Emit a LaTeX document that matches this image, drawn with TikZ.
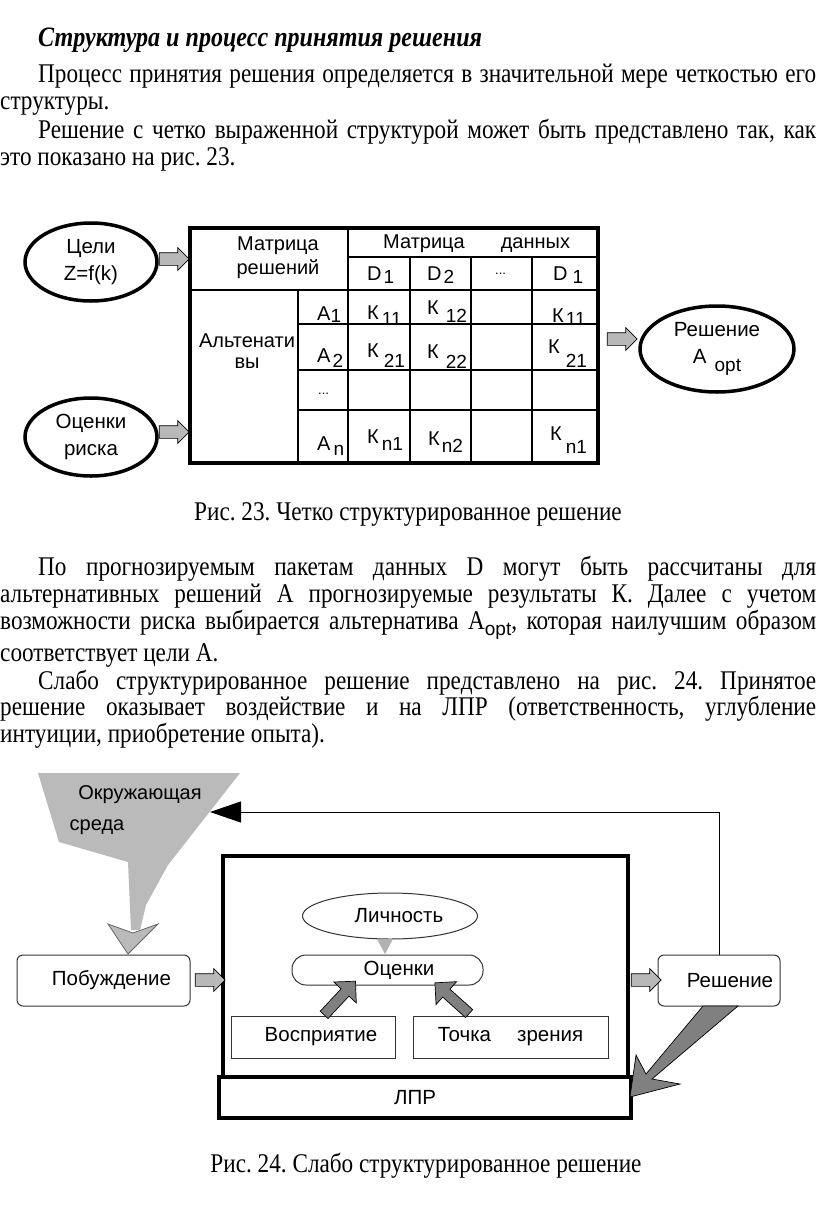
\documentclass[tikz,border=0pt]{standalone}
\usepackage{fontspec}
\setmainfont{Liberation Serif}[FakeStretch=0.86]
\newfontfamily\diagfont{Liberation Sans}
\usetikzlibrary{shapes, arrows.meta, positioning}

\newcommand\lowered[2]{\raisebox{-#1}{\fontsize{19}{20}\selectfont #2}}
\frenchspacing

\begin{document}
\begin{tikzpicture}[x=1pt, y=-1pt,
body-line/.style={anchor=base west, inner sep=0pt, font=\fontsize{27}{28}\selectfont},
fig-caption/.style={body-line, anchor=base},
diag-text/.style={inner sep=0pt, font=\diagfont\fontsize{20}{24}\selectfont},
cell-text/.style={diag-text, anchor=base west},
goal/.style={ellipse, draw=black, line width=3.5pt, minimum width=132pt,
    minimum height=78pt, align=center, inner sep=0pt,
    font=\diagfont\fontsize{20.5}{27}\selectfont},
rule-line/.style={draw, line width=1.2pt},
thick-frame/.style={draw, line width=3.5pt, inner sep=0pt,
    font=\diagfont\fontsize{20.5}{24}\selectfont},
plain-box/.style={rectangle, draw=black!80, line width=1pt, inner sep=0pt,
    font=\diagfont\fontsize{20.5}{24}\selectfont},
fat-arrow/.style={single arrow, draw=black, fill=black!28, line width=0.7pt,
    minimum height=30pt, inner sep=6pt, single arrow head extend=5pt},
dark-arrow/.style={single arrow, draw=black, fill=black!50, line width=0.7pt,
    minimum height=46pt, inner sep=5pt, single arrow head extend=10pt},
feedback/.style={draw, line width=1pt, -{Triangle[length=31pt, width=21pt]}}
]
\useasboundingbox (0,0) rectangle (816,1205);

% text above figure 23
\node [body-line, font=\fontsize{28}{28}\selectfont\bfseries\itshape] (title) at (38,46) {Структура и процесс принятия решения};
\node [body-line] (par1-a) at (38,82) {\makebox[778pt][s]{Процесс принятия решения определяется в значительной мере четкостью его}};
\node [body-line] (par1-b) at (0,109) {структуры.};
\node [body-line] (par2-a) at (38,138) {\makebox[778pt][s]{Решение с четко выраженной структурой может быть представлено так, как}};
\node [body-line] (par2-b) at (0,165) {это показано на рис. 23.};

% figure 23
\node [goal] (goal) at (91,262) {Цели\\Z=f(k)};
\node [goal] (risk) at (91,437) {Оценки\\риска};
\node [goal, minimum width=154pt, minimum height=86pt] (decision) at (717,349) {Решение\\А\hspace{8pt}\lowered{8pt}{opt}};

\node [fat-arrow] (goal-arrow) at (171,259) {};
\node [fat-arrow] (risk-arrow) at (171,432) {};
\node [fat-arrow] (decision-arrow) at (619,339) {};

\draw [thick-frame] (190,228) rectangle (598,463);
\draw [rule-line] (190,290) -- (598,290);
\draw [rule-line] (348,228) -- (348,463);
\draw [rule-line] (348,257) -- (598,257);
\draw [rule-line] (298,290) -- (298,463);
\foreach \x in {410,471,532}
    \draw [rule-line] (\x,257) -- (\x,463);
\foreach \y in {324,370,410}
    \draw [rule-line] (298,\y) -- (598,\y);

\node [diag-text, align=center] (matrix-dec) at (278,258) {Матрица\\решений};
\node [diag-text, anchor=base west] (matrix-data) at (383,248) {Матрица\hspace{36pt}данных};
\node [diag-text, align=center] (alternatives) at (247,351) {Альтенати\\[-3pt]вы};

\node [cell-text] (d-1) at (367,280) {D\hspace{2pt}\lowered{3pt}{1}};
\node [cell-text] (d-2) at (427,280) {D\hspace{2pt}\lowered{3pt}{2}};
\node [cell-text, font=\diagfont\fontsize{13}{14}\selectfont] (d-dots) at (495,274) {...};
\node [cell-text] (d-m) at (553,280) {D\hspace{5pt}\lowered{3pt}{1}};

\node [cell-text] (a-1) at (317,320) {А\hspace{0pt}\lowered{2pt}{1}};
\node [cell-text] (k-11) at (367,319) {К\hspace{3pt}\lowered{6pt}{11}};
\node [cell-text] (k-12) at (427,314) {К\hspace{7pt}\lowered{8pt}{12}};
\node [cell-text] (k-1m) at (552,322) {К\hspace{2pt}\lowered{3pt}{11}};

\node [cell-text] (a-2) at (317,362) {А\hspace{2pt}\lowered{5pt}{2}};
\node [cell-text] (k-21) at (367,357) {К\hspace{5pt}\lowered{10pt}{21}};
\node [cell-text] (k-22) at (427,358) {К\hspace{7pt}\lowered{10pt}{22}};
\node [cell-text] (k-2m) at (548,353) {К\hspace{6pt}\lowered{14pt}{21}};

\node [cell-text, font=\diagfont\fontsize{13}{14}\selectfont] (a-dots) at (318,394) {...};

\node [cell-text] (a-n) at (317,450) {А\hspace{3pt}\lowered{5pt}{n}};
\node [cell-text] (k-n1) at (367,443) {К\hspace{3pt}\lowered{7pt}{n1}};
\node [cell-text] (k-n2) at (428,445) {К\hspace{2pt}\lowered{7pt}{n2}};
\node [cell-text] (k-nm) at (550,440) {К\hspace{4pt}\lowered{13pt}{n1}};

\node [fig-caption] (caption-23) at (408,520) {Рис. 23. Четко структурированное решение};

% text between the figures
\node [body-line] (par3-a) at (38,575) {\makebox[778pt][s]{По прогнозируемым пакетам данных D могут быть рассчитаны для}};
\node [body-line] (par3-b) at (0,602) {\makebox[816pt][s]{альтернативных решений А прогнозируемые результаты К. Далее с учетом}};
\node [body-line] (par3-c) at (0,629) {\makebox[816pt][s]{возможности риска выбирается альтернатива A\raisebox{-6pt}{\diagfont\fontsize{19}{20}\selectfont opt}, которая наилучшим образом}};
\node [body-line] (par3-d) at (0,661) {соответствует цели А.};
\node [body-line] (par4-a) at (38,689) {\makebox[778pt][s]{Слабо структурированное решение представлено на рис. 24. Принятое}};
\node [body-line] (par4-b) at (0,715) {\makebox[816pt][s]{решение оказывает воздействие и на ЛПР (ответственность, углубление}};
\node [body-line] (par4-c) at (0,742) {интуиции, приобретение опыта).};

% figure 24
\fill [black!27] (38,773) -- (240,773) -- (168,865) -- (146,905) -- (140,930)
    -- (131,930) -- (128,862) -- (59,842) -- cycle;
\filldraw [fill=black!27, draw=black!60, line width=0.8pt]
    (108,924) -- (133,933) -- (158,924) -- (128,954) -- cycle;
\node [diag-text, anchor=base] (env-a) at (140,799) {Окружающая};
\node [diag-text, anchor=base] (env-b) at (97,830) {среда};

\node [thick-frame, minimum width=405pt, minimum height=221pt] (dm-frame) at (425.5,966.5) {};
\node [thick-frame, minimum width=412pt, minimum height=41pt] (dm) at (425,1097.5) {\hspace{-20pt}ЛПР};

\node [plain-box, rounded corners=6pt, minimum width=173pt, minimum height=51pt] (urge) at (103.5,980.5) {\hspace{16pt}Побуждение};
\node [plain-box, rounded corners=6pt, minimum width=122pt, minimum height=51pt] (result) at (719,980.5) {\hspace{22pt}Решение};
\node [plain-box, ellipse, minimum width=175pt, minimum height=46pt] (person) at (390,916) {\hspace{18pt}Личность};
\node [plain-box, rounded corners=14pt, minimum width=191pt, minimum height=30pt] (eval) at (387.5,970) {\hspace{23pt}Оценки};
\node [plain-box, minimum width=164pt, minimum height=42pt] (percep) at (313,1037) {\hspace{16pt}Восприятие};
\node [plain-box, minimum width=195pt, minimum height=42pt] (view) at (510.5,1037) {Точка\hspace{26pt}зрения};

\fill [black!30] (377,939) -- (393,939) -- (385,954) -- cycle;

\node [fat-arrow] (urge-arrow) at (207,980) {};
\node [fat-arrow] (result-arrow) at (643,980) {};
\node [dark-arrow, rotate=47] (percep-arrow) at (338,1000) {};
\node [dark-arrow, rotate=138] (view-arrow) at (454,1000) {};

\filldraw [fill=black!50, draw=black, line width=0.7pt]
    (703,1006) -- (738,1006) -- (652,1079) -- (680,1084) -- (630,1097)
    -- (636,1055) -- (646,1074) -- cycle;

\coordinate (env-tip) at (210,812);
\path [feedback] (result.north) |- (env-tip);

\node [fig-caption] (caption-24) at (426,1172) {Рис. 24. Слабо структурированное решение};
\end{tikzpicture}
\end{document}
